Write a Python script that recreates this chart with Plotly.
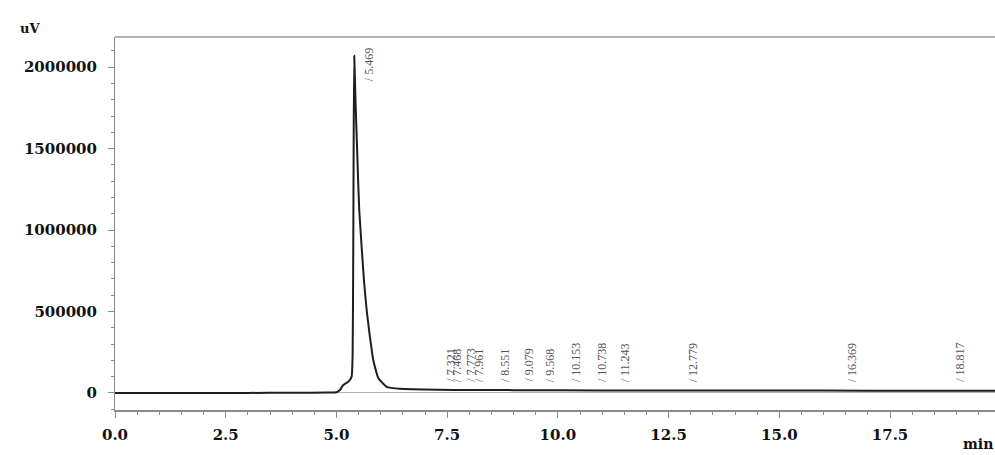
import plotly.graph_objects as go

# Chromatogram trace (time in min, signal in uV)
time_min = [0.0, 1.0, 2.0, 3.0, 4.0, 4.8, 5.0, 5.079, 5.153, 5.27, 5.343,
            5.366, 5.38, 5.39, 5.402, 5.43, 5.46, 5.49, 5.515, 5.569, 5.621,
            5.682, 5.756, 5.831, 5.944, 6.133, 6.43, 7.30, 8.00, 9.00, 10.0,
            12.0, 14.0, 16.0, 18.0, 20.0]
signal_uv = [0, 0, 0, 0, 1000, 2000, 4000, 18000, 49000, 69000, 100000,
             245000, 900000, 1600000, 2070000, 1800000, 1550000, 1300000,
             1123000, 896000, 693000, 509000, 344000, 202000, 92000, 37000,
             25000, 19000, 18000, 17000, 16000, 15000, 14000, 14000, 13000,
             13000]

# Peak retention time labels
peak_rt = [5.469, 7.321, 7.468, 7.773, 7.961, 8.551, 9.079, 9.568, 10.153,
           10.738, 11.243, 12.779, 16.369, 18.817]
peak_label_y = [1900000] + [0] * 13

x_ticks = [0.0, 2.5, 5.0, 7.5, 10.0, 12.5, 15.0, 17.5]
y_ticks = [0, 500000, 1000000, 1500000, 2000000]

fig = go.Figure()
fig.add_trace(go.Scatter(x=time_min, y=signal_uv, mode="lines",
                         line=dict(color="#1e1e1e", width=2, shape="spline",
                                   smoothing=0.4),
                         hoverinfo="skip", showlegend=False))

tick_font = dict(family="DejaVu Serif", size=15, color="#111", weight="bold")
axis_col = "#8a8a8a"

fig.update_xaxes(range=[0, 19.87], tickvals=x_ticks,
                 ticktext=[f"{v:.1f}" for v in x_ticks],
                 showgrid=False, zeroline=False, showline=True,
                 linecolor=axis_col, linewidth=1.5,
                 ticks="outside", ticklen=6, tickcolor=axis_col, tickwidth=1,
                 tickfont=tick_font, ticklabelstandoff=4,
                 minor=dict(dtick=0.5, tick0=0, ticks="outside", ticklen=3,
                            tickcolor=axis_col, showgrid=False))
fig.update_yaxes(range=[-105000, 2185000], tickvals=y_ticks,
                 ticktext=[str(v) for v in y_ticks],
                 showgrid=False, zeroline=True, zerolinecolor="#b0b0b0",
                 zerolinewidth=1, showline=True,
                 linecolor=axis_col, linewidth=1,
                 ticks="outside", ticklen=6, tickcolor=axis_col, tickwidth=1,
                 tickfont=tick_font, ticklabelstandoff=8,
                 minor=dict(dtick=100000, tick0=0, ticks="outside", ticklen=3,
                            tickcolor=axis_col, showgrid=False))

# top frame line
fig.add_shape(type="line", xref="paper", yref="paper", x0=0, x1=1, y0=1, y1=1,
              line=dict(color="#9a9a9a", width=1.5))

for rt, yl in zip(peak_rt, peak_label_y):
    fig.add_annotation(x=rt, y=yl, text=f"/ {rt:.3f}", textangle=-90,
                       showarrow=False, xanchor="center", yanchor="bottom",
                       xshift=12, yshift=9 if yl == 0 else 0,
                       font=dict(family="Liberation Serif", size=12,
                                 color="#555"))

fig.add_annotation(xref="paper", yref="paper", x=-0.097, y=1.0, yshift=9,
                   text="uV", showarrow=False, xanchor="center",
                   yanchor="middle",
                   font=dict(family="DejaVu Serif", size=13, color="#111",
                             weight="bold"))
fig.add_annotation(xref="paper", yref="paper", x=1.0, y=-0.09,
                   text="min", showarrow=False, xanchor="right",
                   yanchor="middle",
                   font=dict(family="DejaVu Serif", size=14, color="#111",
                             weight="bold"))

fig.update_layout(width=995, height=455,
                  margin=dict(l=115, r=0, t=37, b=45),
                  paper_bgcolor="white", plot_bgcolor="white")

fig.write_html("out.html")
